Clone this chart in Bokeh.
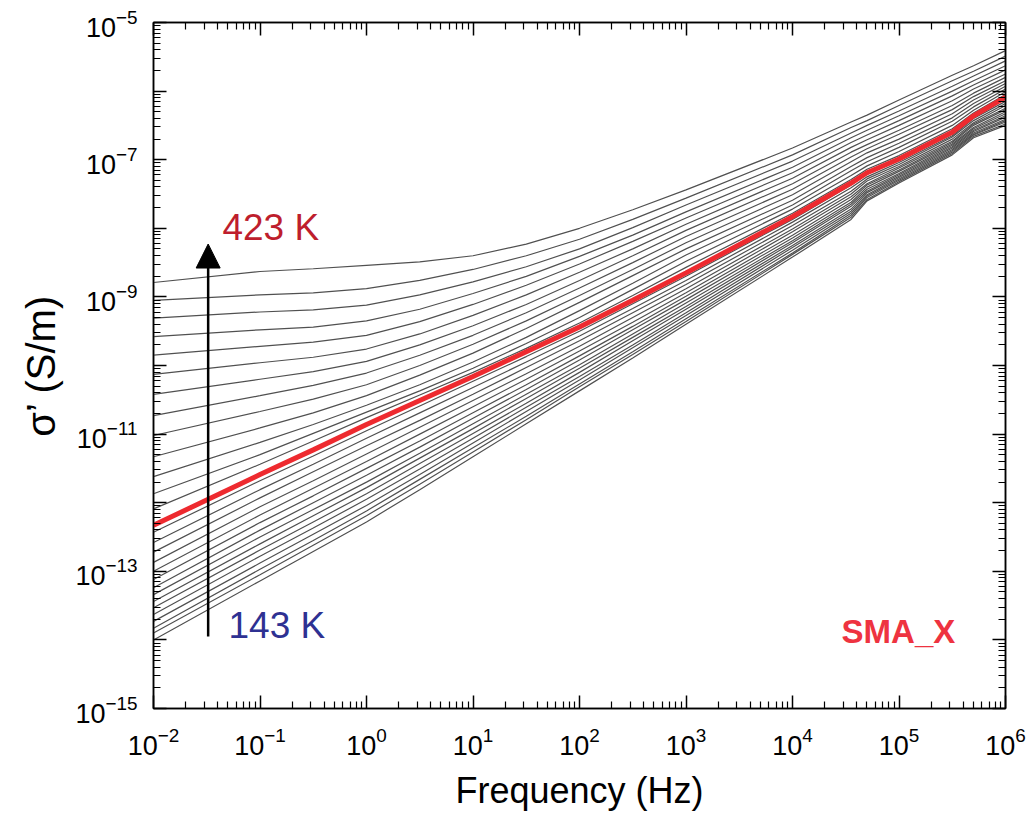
from bokeh.plotting import figure
from bokeh.models import Range1d, FixedTicker, LogAxis, Arrow, NormalHead, Label
from bokeh.embed import file_html
from bokeh.resources import INLINE

# ---------------- data (log10 of frequency and of sigma') --------------
log_freq = [-2, -1, -0.5, 0, 0.5, 1, 1.5, 2, 2.5, 3, 4, 4.55, 4.7, 5, 5.5, 5.7, 6]

s423 = [-8.79, -8.63, -8.59, -8.54, -8.49, -8.40, -8.23, -8.00, -7.73, -7.44, -6.83, -6.45, -6.35, -6.13, -5.77, -5.63, -5.41]
s413 = [-9.05, -8.97, -8.94, -8.88, -8.76, -8.60, -8.40, -8.16, -7.87, -7.56, -6.93, -6.53, -6.43, -6.21, -5.85, -5.71, -5.49]
s403 = [-9.31, -9.22, -9.19, -9.12, -8.97, -8.78, -8.56, -8.30, -7.99, -7.66, -7.02, -6.61, -6.50, -6.29, -5.93, -5.78, -5.56]
s393 = [-9.58, -9.48, -9.44, -9.35, -9.18, -8.95, -8.70, -8.41, -8.10, -7.76, -7.11, -6.68, -6.57, -6.36, -6.00, -5.85, -5.63]
s383 = [-9.85, -9.72, -9.66, -9.56, -9.36, -9.11, -8.83, -8.52, -8.19, -7.85, -7.19, -6.75, -6.64, -6.43, -6.07, -5.91, -5.69]
s373 = [-10.13, -9.96, -9.88, -9.76, -9.54, -9.27, -8.97, -8.64, -8.30, -7.94, -7.27, -6.82, -6.71, -6.50, -6.14, -5.97, -5.75]
s363 = [-10.42, -10.20, -10.09, -9.94, -9.70, -9.42, -9.11, -8.76, -8.40, -8.03, -7.35, -6.89, -6.78, -6.57, -6.21, -6.03, -5.80]
s353 = [-10.73, -10.44, -10.29, -10.11, -9.85, -9.56, -9.23, -8.87, -8.50, -8.12, -7.43, -6.96, -6.84, -6.63, -6.27, -6.08, -5.85]
s343 = [-11.02, -10.67, -10.49, -10.28, -10.00, -9.69, -9.35, -8.98, -8.60, -8.21, -7.51, -7.03, -6.90, -6.70, -6.33, -6.13, -5.89]
s333 = [-11.33, -10.91, -10.69, -10.44, -10.14, -9.82, -9.46, -9.08, -8.69, -8.30, -7.59, -7.10, -6.97, -6.76, -6.39, -6.18, -5.93]
s323 = [-11.62, -11.12, -10.86, -10.58, -10.28, -9.95, -9.59, -9.20, -8.80, -8.39, -7.66, -7.16, -7.03, -6.82, -6.44, -6.23, -5.97]
s313 = [-11.87, -11.30, -10.99, -10.68, -10.37, -10.04, -9.68, -9.30, -8.89, -8.48, -7.72, -7.23, -7.09, -6.88, -6.50, -6.28, -6.01]
s303 = [-12.09, -11.44, -11.10, -10.76, -10.43, -10.10, -9.75, -9.38, -8.98, -8.57, -7.78, -7.29, -7.14, -6.94, -6.55, -6.32, -6.05]
s293 = [-12.33, -11.59, -11.23, -10.86, -10.51, -10.16, -9.80, -9.44, -9.05, -8.65, -7.83, -7.34, -7.19, -6.99, -6.60, -6.36, -6.09]
s283 = [-12.43, -11.68, -11.32, -10.95, -10.59, -10.23, -9.87, -9.50, -9.10, -8.70, -7.87, -7.37, -7.21, -7.01, -6.62, -6.38, -6.11]
s273 = [-12.58, -11.81, -11.44, -11.06, -10.69, -10.32, -9.95, -9.57, -9.17, -8.76, -7.91, -7.41, -7.25, -7.04, -6.65, -6.40, -6.15]
s263 = [-12.72, -11.93, -11.55, -11.17, -10.80, -10.42, -10.03, -9.64, -9.23, -8.82, -7.96, -7.46, -7.28, -7.07, -6.67, -6.43, -6.18]
s253 = [-12.87, -12.06, -11.68, -11.29, -10.90, -10.51, -10.12, -9.72, -9.30, -8.88, -8.01, -7.50, -7.31, -7.10, -6.70, -6.46, -6.21]
s243 = [-13.00, -12.18, -11.79, -11.40, -11.00, -10.60, -10.20, -9.79, -9.37, -8.94, -8.05, -7.54, -7.35, -7.12, -6.73, -6.48, -6.25]
s233 = [-13.12, -12.29, -11.90, -11.50, -11.10, -10.69, -10.28, -9.86, -9.43, -8.99, -8.10, -7.58, -7.37, -7.15, -6.75, -6.50, -6.27]
s223 = [-13.24, -12.40, -12.00, -11.60, -11.19, -10.77, -10.35, -9.92, -9.48, -9.04, -8.14, -7.62, -7.40, -7.17, -6.77, -6.53, -6.30]
s213 = [-13.34, -12.50, -12.10, -11.70, -11.28, -10.85, -10.42, -9.99, -9.54, -9.09, -8.18, -7.65, -7.43, -7.20, -6.79, -6.55, -6.33]
s203 = [-13.44, -12.60, -12.19, -11.78, -11.35, -10.92, -10.48, -10.04, -9.59, -9.14, -8.21, -7.68, -7.46, -7.22, -6.81, -6.57, -6.36]
s193 = [-13.53, -12.69, -12.28, -11.87, -11.43, -10.99, -10.55, -10.10, -9.64, -9.18, -8.25, -7.72, -7.48, -7.24, -6.83, -6.59, -6.38]
s183 = [-13.63, -12.78, -12.37, -11.95, -11.51, -11.06, -10.61, -10.16, -9.70, -9.23, -8.28, -7.75, -7.51, -7.26, -6.85, -6.61, -6.41]
s173 = [-13.73, -12.88, -12.46, -12.04, -11.59, -11.13, -10.67, -10.21, -9.74, -9.27, -8.32, -7.78, -7.53, -7.28, -6.87, -6.63, -6.43]
s163 = [-13.83, -12.97, -12.55, -12.12, -11.66, -11.20, -10.74, -10.27, -9.80, -9.32, -8.36, -7.81, -7.55, -7.30, -6.89, -6.64, -6.45]
s153 = [-13.90, -13.05, -12.62, -12.19, -11.73, -11.26, -10.79, -10.31, -9.84, -9.36, -8.38, -7.84, -7.58, -7.32, -6.91, -6.66, -6.48]
s143 = [-14.00, -13.14, -12.71, -12.28, -11.81, -11.33, -10.85, -10.37, -9.89, -9.40, -8.42, -7.87, -7.60, -7.34, -6.93, -6.68, -6.50]

gray_curves = [s423, s413, s403, s393, s383, s373, s363, s353, s343, s333, s323, s313, s303,
               s283, s273, s263, s253, s243, s233, s223, s213, s203, s193, s183, s173, s163,
               s153, s143]
red_curve = s293

x_exponents = [-2, -1, 0, 1, 2, 3, 4, 5, 6]
y_exponents = [-15, -14, -13, -12, -11, -10, -9, -8, -7, -6, -5]
y_labelled = [-15, -13, -11, -9, -7, -5]

# ---------------- figure ----------------
FONT = "Liberation Sans"
p = figure(width=1032, height=814, x_axis_type="log", y_axis_type="log",
           x_range=Range1d(1e-2, 1e6), y_range=Range1d(1e-15, 1e-5),
           output_backend="svg", toolbar_location=None,
           min_border_left=153, min_border_right=27, min_border_top=22,
           min_border_bottom=106)
p.grid.visible = False
p.outline_line_color = "black"
p.outline_line_width = 1.5
p.background_fill_color = "white"
p.border_fill_color = "white"


def dec(e):
    return float(f"1e{e}")


x_major = [dec(e) for e in x_exponents]
x_minor = [m * dec(e) for e in x_exponents[:-1] for m in range(2, 10)]
y_major = [dec(e) for e in y_exponents]
y_minor = [m * dec(e) for e in y_exponents[:-1] for m in range(2, 10)]


def style(ax):
    ax.major_tick_in = 13
    ax.major_tick_out = 0
    ax.minor_tick_in = 7
    ax.minor_tick_out = 0
    ax.axis_line_color = "black"
    ax.axis_line_width = 1.5
    ax.major_tick_line_color = "black"
    ax.major_tick_line_width = 1.5
    ax.minor_tick_line_color = "black"
    ax.minor_tick_line_width = 1.2


xa = p.xaxis[0]
xa.ticker = FixedTicker(ticks=x_major, minor_ticks=x_minor)
style(xa)
xa.major_label_text_font = FONT
xa.major_label_text_font_size = "27px"
xa.major_label_text_color = "black"
xa.major_label_standoff = 18
xa.axis_label = "Frequency (Hz)"
xa.axis_label_text_font = FONT
xa.axis_label_text_font_size = "36px"
xa.axis_label_text_font_style = "normal"
xa.axis_label_text_color = "black"
xa.axis_label_standoff = 12

ya = p.yaxis[0]
ya.ticker = FixedTicker(ticks=y_major, minor_ticks=y_minor)
style(ya)
ya.major_label_text_font = FONT
ya.major_label_text_font_size = "27px"
ya.major_label_text_color = "black"
ya.major_label_standoff = 16
ya.major_label_overrides = {dec(e): " " for e in y_exponents if e not in y_labelled}
ya.axis_label = "σ’ (S/m)"
ya.axis_label_text_font = FONT
ya.axis_label_text_font_size = "40px"
ya.axis_label_text_font_style = "normal"
ya.axis_label_text_color = "black"
ya.axis_label_standoff = 9

top_ax = LogAxis(ticker=FixedTicker(ticks=x_major, minor_ticks=x_minor),
                 major_label_text_font_size="1px", major_label_text_alpha=0,
                 major_label_standoff=0)
style(top_ax)
p.add_layout(top_ax, "above")
right_ax = LogAxis(ticker=FixedTicker(ticks=y_major, minor_ticks=y_minor),
                   major_label_text_font_size="1px", major_label_text_alpha=0,
                   major_label_standoff=0)
style(right_ax)
p.add_layout(right_ax, "right")

# ---------------- curves ----------------
freq = [10.0 ** v for v in log_freq]
for c in gray_curves:
    p.line(freq, [10.0 ** v for v in c], line_color="#505050", line_width=1.2)
p.line(freq, [10.0 ** v for v in red_curve], line_color="#EE2A2F", line_width=5)

# ---------------- annotations ----------------
p.add_layout(Arrow(end=NormalHead(size=24, fill_color="black", line_color="black"),
                   x_start=0.0326, y_start=1.12e-14, x_end=0.0326, y_end=5.9e-9,
                   line_color="black", line_width=2.5))
p.add_layout(Label(x=0.0444, y=5.14e-9, text="423 K", text_font=FONT,
                   text_font_size="37px", text_color="#BE1E2D"))
p.add_layout(Label(x=0.0506, y=8.2e-15, text="143 K", text_font=FONT,
                   text_font_size="37px", text_color="#2E3192"))
p.add_layout(Label(x=2.89e4, y=7.2e-15, text="SMA_X", text_font=FONT,
                   text_font_size="33px", text_font_style="bold", text_color="#EE3340"))

open("out.html", "w").write(file_html(p, INLINE))
